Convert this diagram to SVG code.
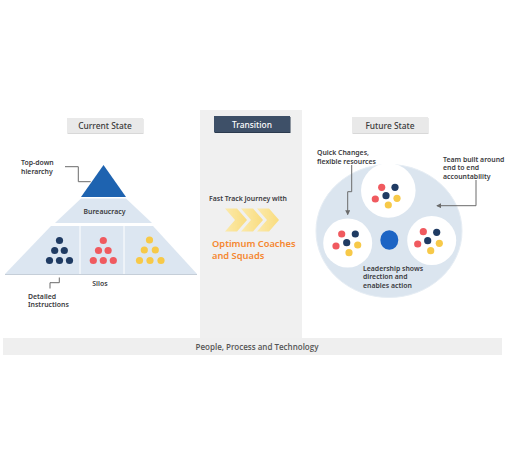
<svg xmlns="http://www.w3.org/2000/svg" width="506" height="459" viewBox="0 0 506 459">
<defs>
<style>
.lbl{font-family:"Noto Sans","Open Sans",sans-serif;font-size:6.9px;font-weight:600;fill:#3a3a40}
.hdr{font-family:"Noto Sans","Open Sans",sans-serif;font-size:8.4px;font-weight:500;fill:#3a3a3a;text-anchor:middle}
.nv{fill:#1f3b63}.rd{fill:#f05a5f}.yl{fill:#f7c948}
.conn{fill:none;stroke:#6b6b6b;stroke-width:1}
.orange{font-family:"Noto Sans","Open Sans",sans-serif;font-size:9.3px;font-weight:600;fill:#f5872f}
</style>
<marker id="ah" viewBox="0 0 6 6" refX="5" refY="3" markerWidth="5" markerHeight="5" orient="auto">
<path d="M0,0 L6,3 L0,6 z" fill="#6b6b6b"/>
</marker>
<linearGradient id="chev" x1="0" x2="1" y1="0" y2="0">
<stop offset="0" stop-color="#fde9a0"/>
<stop offset="1" stop-color="#fbd96a"/>
</linearGradient>
</defs>
<rect width="506" height="459" fill="#ffffff"/>

<g id="transition-panel">
<rect x="200" y="110" width="102" height="230" fill="#f0f0f0"/>
</g>

<g id="foundation">
<rect x="3" y="338" width="499" height="17" fill="#efefef"/>
<text x="257" y="350" text-anchor="middle" font-family="'Open Sans','Noto Sans',sans-serif" font-size="8" font-weight="600" fill="#555">People, Process and Technology</text>
</g>

<g id="current-state-header">
<rect x="67.5" y="119" width="76" height="15" fill="#d8d8d8"/>
<rect x="67" y="118" width="76" height="15" fill="#e9e9e9"/>
<text class="hdr" x="105" y="129">Current State</text>
</g>
<g id="transition-header">
<rect x="214.5" y="117" width="76" height="16" fill="#2b3a4e"/>
<rect x="214" y="116" width="76" height="16" fill="#3e5068"/>
<text class="hdr" x="252" y="127.5" style="fill:#ffffff">Transition</text>
</g>
<g id="future-state-header">
<rect x="352.5" y="118" width="76" height="16" fill="#d8d8d8"/>
<rect x="352" y="117" width="76" height="16" fill="#e9e9e9"/>
<text class="hdr" x="390" y="128.5">Future State</text>
</g>

<g id="top-triangle">
<polygon points="103.5,165 81,197 126,197" fill="#1e63b0"/>
</g>
<g id="bureaucracy">
<polygon points="81,198.5 126,198.5 152,223 55,223" fill="#dce6f1"/>
<text class="lbl" x="104.5" y="214" text-anchor="middle">Bureaucracy</text>
</g>
<g id="silos">
<polygon points="51,226 153,226 197,274 5,274" fill="#dce6f1"/>
<line x1="5" y1="274.5" x2="197" y2="274.5" stroke="#c5ced8" stroke-width="1"/>
<line x1="80" y1="226" x2="80" y2="274" stroke="#ffffff" stroke-width="1"/>
<line x1="124" y1="226" x2="124" y2="274" stroke="#ffffff" stroke-width="1"/>
<g class="nv">
<circle cx="59.5" cy="240.5" r="3.6"/><circle cx="54.7" cy="250.5" r="3.6"/><circle cx="64.3" cy="250.5" r="3.6"/>
<circle cx="49.5" cy="260.5" r="3.6"/><circle cx="59.5" cy="260.5" r="3.6"/><circle cx="69.5" cy="260.5" r="3.6"/>
</g>
<g class="rd">
<circle cx="103.3" cy="240.5" r="3.6"/><circle cx="98.5" cy="250.5" r="3.6"/><circle cx="108.1" cy="250.5" r="3.6"/>
<circle cx="93.3" cy="260.5" r="3.6"/><circle cx="103.3" cy="260.5" r="3.6"/><circle cx="113.3" cy="260.5" r="3.6"/>
</g>
<g class="yl">
<circle cx="149.5" cy="240" r="3.6"/><circle cx="144.3" cy="250" r="3.6"/><circle cx="155.3" cy="250" r="3.6"/>
<circle cx="139.5" cy="260.5" r="3.6"/><circle cx="150" cy="260.5" r="3.6"/><circle cx="161" cy="260.5" r="3.6"/>
</g>
<text class="lbl" x="100" y="285.5" text-anchor="middle">Silos</text>
</g>

<g id="label-topdown">
<text class="lbl" x="21" y="165">Top-down</text>
<text class="lbl" x="21" y="174">hierarchy</text>
</g>
<g id="label-detailed">
<text class="lbl" x="28" y="298.5">Detailed</text>
<text class="lbl" x="28" y="307">Instructions</text>
</g>

<g id="fast-track">
<text class="lbl" x="248" y="201" text-anchor="middle">Fast Track Journey with</text>
<g fill="url(#chev)" opacity="0.85">
<polygon points="225,208.5 237,208.5 247,220 237,231.5 225,231.5 235,220"/>
<polygon points="241,208.5 253,208.5 263,220 253,231.5 241,231.5 251,220"/>
<polygon points="257,208.5 269,208.5 279,220 269,231.5 257,231.5 267,220"/>
</g>
<text class="orange" x="212" y="247">Optimum Coaches</text>
<text class="orange" x="212" y="258.5">and Squads</text>
</g>

<g id="team-circle">
<ellipse cx="389" cy="231" rx="73" ry="66.5" fill="#dbe5ef" stroke="#e6edf4" stroke-width="1"/>
</g>
<g id="squad-top">
<circle cx="388.3" cy="190.5" r="27.3" fill="#ffffff"/>
<circle class="rd" cx="381.7" cy="187.3" r="3.6"/><circle class="nv" cx="395" cy="187.3" r="3.6"/>
<circle class="nv" cx="386" cy="195.7" r="3.6"/><circle class="rd" cx="375.3" cy="199" r="3.6"/>
<circle class="yl" cx="397" cy="198.3" r="3.6"/><circle class="yl" cx="388.3" cy="205" r="3.6"/>
</g>
<g id="squad-left">
<circle cx="347.7" cy="243" r="24.5" fill="#ffffff"/>
<circle class="rd" cx="341.7" cy="234" r="3.6"/><circle class="nv" cx="355.3" cy="234" r="3.6"/>
<circle class="nv" cx="346.7" cy="242.7" r="3.6"/><circle class="rd" cx="336" cy="246" r="3.6"/>
<circle class="yl" cx="357.7" cy="245" r="3.6"/><circle class="yl" cx="349" cy="252.7" r="3.6"/>
</g>
<g id="squad-right">
<circle cx="431.7" cy="240.5" r="24.5" fill="#ffffff"/>
<circle class="rd" cx="423.3" cy="231.7" r="3.6"/><circle class="nv" cx="436.7" cy="232.3" r="3.6"/>
<circle class="nv" cx="427.7" cy="240.7" r="3.6"/><circle class="rd" cx="417.7" cy="244" r="3.6"/>
<circle class="yl" cx="439.3" cy="243.3" r="3.6"/><circle class="yl" cx="430.7" cy="250.7" r="3.6"/>
</g>
<g id="leader">
<ellipse cx="389.3" cy="240" rx="9" ry="9.8" fill="#1c64c4"/>
</g>
<g id="label-leadership">
<text class="lbl" x="363" y="270.5">Leadership shows</text>
<text class="lbl" x="363" y="279">direction and</text>
<text class="lbl" x="363" y="288">enables action</text>
</g>
<g id="label-quick">
<text class="lbl" x="317" y="155">Quick Changes,</text>
<text class="lbl" x="317" y="163.5">flexible resources</text>
</g>
<g id="label-team">
<text class="lbl" x="443" y="161.5">Team built around</text>
<text class="lbl" x="443" y="170">end to end</text>
<text class="lbl" x="443" y="179">accountability</text>
</g>

<g id="connectors">
<polyline class="conn" points="65,166.7 78.3,166.7 78.3,181.7 90.7,181.7"/>
<polyline class="conn" points="59.3,277.5 59.3,282.7 50,282.7 50,288.5"/>
<polyline class="conn" points="351.7,165 351.7,191.7 347.7,191.7 347.7,214.5" marker-end="url(#ah)"/>
<polyline class="conn" points="476,180 476,205.7 437,205.7" marker-end="url(#ah)"/>
</g>
</svg>
